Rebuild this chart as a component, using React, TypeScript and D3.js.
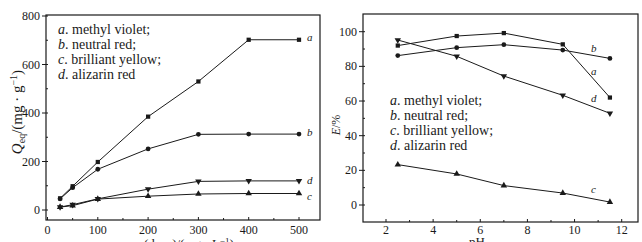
import React from "react";
import * as d3 from "d3";

const concX = [25, 50, 100, 200, 300, 400, 500];
const concA = [48, 98, 198, 385, 530, 702, 702];
const concB = [46, 92, 168, 252, 312, 313, 313];
const concC = [12, 18, 45, 57, 66, 68, 68];
const concD = [12, 22, 46, 86, 118, 120, 120];

const phX = [2.5, 5, 7, 9.5, 11.5];
const phA = [92, 97.5, 99.2, 92.7, 62];
const phB = [86.2, 90.8, 92.5, 89.4, 84.6];
const phC = [23.3, 17.9, 11.2, 6.9, 1.7];
const phD = [95.2, 85.8, 74.4, 63.3, 52.9];

const leftYTicks = [0, 200, 400, 600, 800];
const leftXTicks = [0, 100, 200, 300, 400, 500];
const rightYTicks = [0, 20, 40, 60, 80, 100];
const rightXTicks = [2, 4, 6, 8, 10, 12];

const legendItems = [
  ["a", "methyl violet;"],
  ["b", "neutral red;"],
  ["c", "brilliant yellow;"],
  ["d", "alizarin red"],
];

const INK = "#1a1a1a";
const FONT = "'Liberation Serif', 'DejaVu Serif', serif";

type Shape = "square" | "circle" | "up" | "down";

function Marker({ x, y, shape }: { x: number; y: number; shape: Shape }) {
  const sym =
    shape === "square" ? d3.symbolSquare : shape === "circle" ? d3.symbolCircle : d3.symbolTriangle;
  const size = 18;
  const path = d3.symbol(sym, size)() as string;
  const rot = shape === "down" ? 180 : 0;
  return <path d={path} transform={`translate(${x},${y}) rotate(${rot})`} fill={INK} />;
}

function Series({ xs, ys, sx, sy, shape }: any) {
  const pts: [number, number][] = xs.map((v: number, i: number) => [sx(v), sy(ys[i])]);
  const line = d3.line()(pts) as string;
  return (
    <g>
      <path d={line} fill="none" stroke={INK} strokeWidth={1} />
      {pts.map((p, i) => (
        <Marker key={i} x={p[0]} y={p[1]} shape={shape} />
      ))}
    </g>
  );
}

function Legend({ x, y, size, gap }: { x: number; y: number; size: number; gap: number }) {
  return (
    <g fontFamily={FONT} fontSize={size} fill={INK}>
      {legendItems.map(([k, t], i) => (
        <text key={k} x={x} y={y + i * gap}>
          <tspan fontStyle="italic">{k}</tspan>. {t}
        </text>
      ))}
    </g>
  );
}

export default function App() {
  const lx = d3.scaleLinear().domain([0, 500]).range([47.5, 299]);
  const ly = d3.scaleLinear().domain([0, 800]).range([210, 16]);
  const L = { x0: 46, x1: 320, y0: 15, y1: 220 };
  const rx = d3.scaleLinear().domain([2, 12]).range([386, 621.7]);
  const ry = d3.scaleLinear().domain([0, 100]).range([205, 31.7]);
  const R = { x0: 363, x1: 638, y0: 14, y1: 222 };

  const lMinorX = [50, 150, 250, 350, 450];
  const lMinorY = [100, 300, 500, 700];
  const rMinorX = [3, 5, 7, 9, 11];
  const rMinorY = [10, 30, 50, 70, 90];

  return (
    <svg width={642} height={242} style={{ position: "absolute", left: 0, top: 0, background: "#fff" }}>
      <rect width={642} height={242} fill="#fff" />
      {/* LEFT */}
      <rect x={L.x0} y={L.y0} width={L.x1 - L.x0} height={L.y1 - L.y0} fill="none" stroke={INK} strokeWidth={1.2} />
      <g stroke={INK} strokeWidth={1}>
        {leftYTicks.map((t) => (
          <line key={t} x1={L.x0 - 4} x2={L.x0 + 2} y1={ly(t)} y2={ly(t)} />
        ))}
        {lMinorY.map((t) => (
          <line key={t} x1={L.x0} x2={L.x0 + 2} y1={ly(t)} y2={ly(t)} />
        ))}
        {leftXTicks.map((t) => (
          <line key={t} x1={lx(t)} x2={lx(t)} y1={L.y1} y2={L.y1 - 3} />
        ))}
        {lMinorX.map((t) => (
          <line key={t} x1={lx(t)} x2={lx(t)} y1={L.y1} y2={L.y1 - 2} />
        ))}
      </g>
      <g fontFamily={FONT} fontSize={12} fill={INK}>
        {leftYTicks.map((t) => (
          <text key={t} x={L.x0 - 6} y={ly(t) + 4} textAnchor="end">{t}</text>
        ))}
        {leftXTicks.map((t) => (
          <text key={t} x={lx(t)} y={234} textAnchor="middle">{t}</text>
        ))}
        <text x={186} y={248} textAnchor="middle" fontSize={13}>
          <tspan fontStyle="italic">c</tspan>(dyes)/(mg · L<tspan dy={-4} fontSize={9}>−1</tspan><tspan dy={4}>)</tspan>
        </text>
        <text transform="translate(22,112) rotate(-90)" textAnchor="middle" fontSize={15}>
          <tspan fontStyle="italic">Q</tspan><tspan dy={3} fontSize={10}>eq</tspan><tspan dy={-3}>/(mg · g</tspan><tspan dy={-5} fontSize={10}>−1</tspan><tspan dy={5}>)</tspan>
        </text>
      </g>
      <Series xs={concX} ys={concA} sx={lx} sy={ly} shape="square" />
      <Series xs={concX} ys={concB} sx={lx} sy={ly} shape="circle" />
      <Series xs={concX} ys={concD} sx={lx} sy={ly} shape="down" />
      <Series xs={concX} ys={concC} sx={lx} sy={ly} shape="up" />
      <g fontFamily={FONT} fontSize={11} fontStyle="italic" fill={INK}>
        <text x={307} y={41}>a</text>
        <text x={307} y={136}>b</text>
        <text x={307} y={184}>d</text>
        <text x={307} y={200}>c</text>
      </g>
      <Legend x={58} y={34} size={14} gap={15} />

      {/* RIGHT */}
      <rect x={R.x0} y={R.y0} width={R.x1 - R.x0} height={R.y1 - R.y0} fill="none" stroke={INK} strokeWidth={1.2} />
      <g stroke={INK} strokeWidth={1}>
        {rightYTicks.map((t) => (
          <line key={t} x1={R.x0 - 4} x2={R.x0 + 2} y1={ry(t)} y2={ry(t)} />
        ))}
        {rMinorY.map((t) => (
          <line key={t} x1={R.x0} x2={R.x0 + 2} y1={ry(t)} y2={ry(t)} />
        ))}
        {rightXTicks.map((t) => (
          <line key={t} x1={rx(t)} x2={rx(t)} y1={R.y1} y2={R.y1 - 3} />
        ))}
        {rMinorX.map((t) => (
          <line key={t} x1={rx(t)} x2={rx(t)} y1={R.y1} y2={R.y1 - 2} />
        ))}
      </g>
      <g fontFamily={FONT} fontSize={12} fill={INK}>
        {rightYTicks.map((t) => (
          <text key={t} x={R.x0 - 6} y={ry(t) + 4} textAnchor="end">{t}</text>
        ))}
        {rightXTicks.map((t) => (
          <text key={t} x={rx(t)} y={234} textAnchor="middle">{t}</text>
        ))}
        <text x={477} y={246} textAnchor="middle" fontSize={13}>pH</text>
        <text transform="translate(340,125) rotate(-90)" textAnchor="middle" fontSize={12}>
          <tspan fontStyle="italic">E</tspan>/%
        </text>
      </g>
      <Series xs={phX} ys={phA} sx={rx} sy={ry} shape="square" />
      <Series xs={phX} ys={phB} sx={rx} sy={ry} shape="circle" />
      <Series xs={phX} ys={phD} sx={rx} sy={ry} shape="down" />
      <Series xs={phX} ys={phC} sx={rx} sy={ry} shape="up" />
      <g fontFamily={FONT} fontSize={11} fontStyle="italic" fill={INK}>
        <text x={591} y={52}>b</text>
        <text x={591} y={75}>a</text>
        <text x={591} y={102}>d</text>
        <text x={591} y={193}>c</text>
      </g>
      <Legend x={390} y={105} size={14} gap={15} />
    </svg>
  );
}
